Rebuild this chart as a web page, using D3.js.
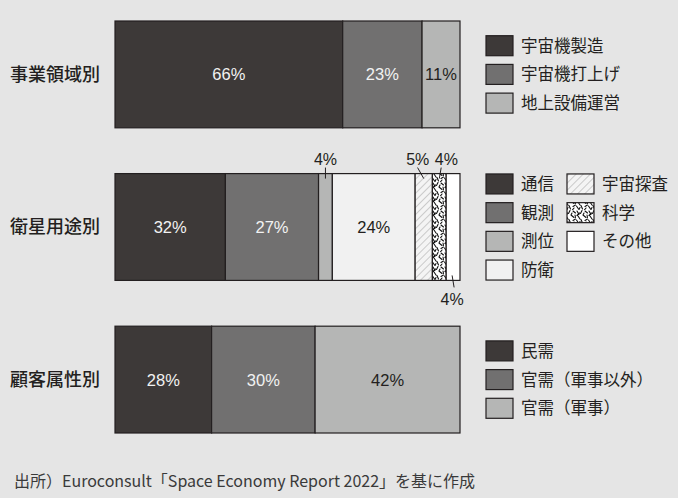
<!DOCTYPE html>
<html>
<head>
<meta charset="utf-8">
<script src="https://cdn.jsdelivr.net/npm/d3@7"></script>
<style>
  html, body { margin: 0; padding: 0; background: #e5e5e5; }
  svg { display: block; }
  text { font-family: "Noto Sans CJK JP", "Noto Sans", sans-serif; }
  text.pct { font-family: "Liberation Sans", Arial, sans-serif; }
</style>
</head>
<body>
<script>
// Market breakdowns (%), one row per viewpoint
const rowLabels = ["事業領域別", "衛星用途別", "顧客属性別"];

const businessNames = ["宇宙機製造", "宇宙機打上げ", "地上設備運営"];
const businessShares = [66, 23, 11];

const satelliteNames = ["通信", "観測", "測位", "防衛", "宇宙探査", "科学", "その他"];
const satelliteShares = [32, 27, 4, 24, 5, 4, 4];

const customerNames = ["民需", "官需（軍事以外）", "官需（軍事）"];
const customerShares = [28, 30, 42];

const footnote = "出所）Euroconsult「Space Economy Report 2022」を基に作成";

const rows = [
  { label: rowLabels[0], names: businessNames, shares: businessShares },
  { label: rowLabels[1], names: satelliteNames, shares: satelliteShares },
  { label: rowLabels[2], names: customerNames, shares: customerShares }
];

const W = 678, H = 498;
const svg = d3.select("body").append("svg").attr("width", W).attr("height", H);
svg.append("rect").attr("width", W).attr("height", H).attr("fill", "#e5e5e5");

// --- fills ---
const defs = svg.append("defs");
const hatch = defs.append("pattern").attr("id", "hatch")
  .attr("patternUnits", "userSpaceOnUse").attr("width", 5).attr("height", 5)
  .attr("patternTransform", "rotate(45)");
hatch.append("rect").attr("width", 5).attr("height", 5).attr("fill", "#f4f4f4");
hatch.append("line").attr("x1", 0).attr("y1", 0).attr("x2", 0).attr("y2", 5)
  .attr("stroke", "#a0a0a0").attr("stroke-width", 1);

const scatter = defs.append("pattern").attr("id", "scatter")
  .attr("patternUnits", "userSpaceOnUse").attr("width", 12).attr("height", 14);
scatter.append("rect").attr("width", 12).attr("height", 14).attr("fill", "#ffffff");
scatter.append("path")
  .attr("d", "M1,1 L3,4.5 M6,0.5 L4.5,3.5 M9,1 L11.5,3 M2,6 L4,9 M7,5 L10,7.5 M0.5,10 L2.5,13 M5,9.5 L6.5,13 M9,10.5 L11.5,9 M10,12 L8.5,13.8 M3.5,3 L1,5.5 M8,3 L7,5 M11,5 L11.5,7.5 M4,11.5 L3,13.5")
  .attr("stroke", "#111").attr("stroke-width", 1.1).attr("fill", "none").attr("stroke-linecap", "round");

const fillOf = {
  "宇宙機製造": "#3d3938", "宇宙機打上げ": "#717070", "地上設備運営": "#b5b6b5",
  "通信": "#3d3938", "観測": "#717070", "測位": "#b5b6b5", "防衛": "#f1f1f1",
  "宇宙探査": "url(#hatch)", "科学": "url(#scatter)", "その他": "#ffffff",
  "民需": "#3d3938", "官需（軍事以外）": "#717070", "官需（軍事）": "#b5b6b5"
};
const darkFill = new Set(["#3d3938", "#717070"]);

// --- scales ---
const x = d3.scaleLinear().domain([0, 100]).range([115, 460]);
const y = d3.scaleBand().domain(rowLabels).range([21, 433]).paddingInner(0.3);

rows.forEach(row => {
  let acc = 0;
  row.segs = row.names.map((n, i) => {
    const s = { name: n, value: row.shares[i], x0: acc, x1: acc + row.shares[i] };
    acc += row.shares[i];
    return s;
  });
});

const g = svg.append("g");

rows.forEach((row, ri) => {
  const top = y(row.label), bh = y.bandwidth(), cy = top + bh / 2;

  // row title
  g.append("text").attr("x", 10).attr("y", cy).attr("dy", "0.36em")
    .attr("font-size", 18).attr("font-weight", 500).attr("fill", "#231f20")
    .text(row.label);

  // segments
  g.selectAll(null).data(row.segs).enter().append("rect")
    .attr("x", d => x(d.x0)).attr("y", top)
    .attr("width", d => x(d.x1) - x(d.x0)).attr("height", bh)
    .attr("fill", d => fillOf[d.name])
    .attr("stroke", "#231f20").attr("stroke-width", 1.2);

  // in-bar labels for wide segments
  row.segs.filter(d => d.value >= 10).forEach(d => {
    g.append("text").attr("class", "pct")
      .attr("x", (x(d.x0) + x(d.x1)) / 2).attr("y", cy).attr("dy", "0.36em")
      .attr("text-anchor", "middle").attr("font-size", 16.5)
      .attr("fill", darkFill.has(fillOf[d.name]) ? "#f2f2f2" : "#231f20")
      .text(d.value + "%");
  });

  // callout labels for narrow segments
  const narrow = row.segs.filter(d => d.value < 10);
  narrow.forEach((d, k) => {
    const mx = (x(d.x0) + x(d.x1)) / 2;
    const below = k === narrow.length - 1 && narrow.length > 1;
    let lx = mx;
    if (!below && k === 1) lx = mx - 6;
    if (!below && k === 2) lx = mx + 7;
    if (below) {
      g.append("line").attr("x1", mx - 1).attr("y1", top + bh - 5)
        .attr("x2", mx + 1).attr("y2", top + bh + 7)
        .attr("stroke", "#231f20").attr("stroke-width", 1);
      g.append("text").attr("class", "pct").attr("x", lx - 1).attr("y", top + bh + 25)
        .attr("text-anchor", "middle").attr("font-size", 16).attr("fill", "#231f20")
        .text(d.value + "%");
    } else {
      g.append("line").attr("x1", lx - (lx - mx) * 0.3 - (k === 1 ? 2 : 0) + (k === 2 ? -3 : 0)).attr("y1", top - 6)
        .attr("x2", mx).attr("y2", top + 5)
        .attr("stroke", "#231f20").attr("stroke-width", 1);
      g.append("text").attr("class", "pct").attr("x", lx).attr("y", top - 9)
        .attr("text-anchor", "middle").attr("font-size", 16).attr("fill", "#231f20")
        .text(d.value + "%");
    }
  });

  // legend, centered on the bar
  const perCol = row.names.length > 4 ? 4 : row.names.length;
  const step = 28.7, sw = 27, sh = 20;
  const legTop = cy - ((perCol - 1) * step + sh) / 2;
  row.names.forEach((n, i) => {
    const col = Math.floor(i / perCol), r = i % perCol;
    const lx = 486 + col * 81, ly = legTop + r * step;
    g.append("rect").attr("x", lx).attr("y", ly).attr("width", sw).attr("height", sh)
      .attr("fill", fillOf[n]).attr("stroke", "#231f20").attr("stroke-width", 1.2);
    g.append("text").attr("x", lx + sw + 8).attr("y", ly + sh / 2).attr("dy", "0.36em")
      .attr("font-size", 16.5).attr("fill", "#231f20").text(n);
  });
});

svg.append("text").attr("x", 14).attr("y", 487)
  .attr("font-size", 16).attr("fill", "#3a3a3a").text(footnote);
</script>
</body>
</html>
